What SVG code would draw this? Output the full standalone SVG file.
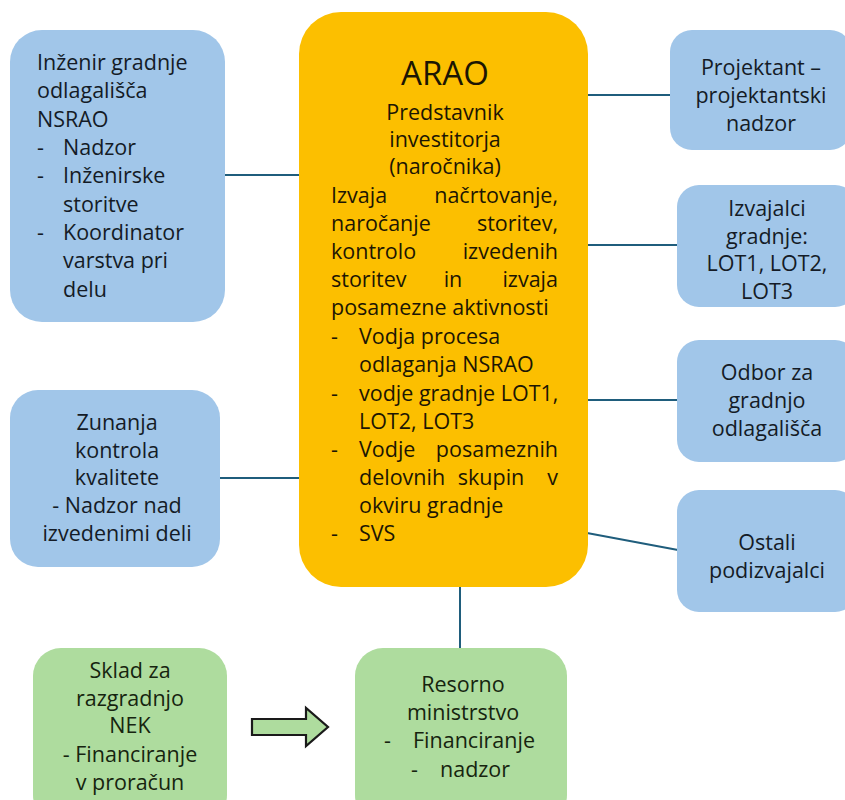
<svg xmlns="http://www.w3.org/2000/svg" width="845" height="800" viewBox="0 0 845 800">
<style>
text{font-family:"Open Sans","Liberation Sans",sans-serif;font-size:21.5px;fill:#141b26}
.c{text-anchor:middle}
.e{text-anchor:end}
.blue{fill:#a1c6e9}
.org{fill:#fcbf00}
.grn{fill:#aedc9e}
.ar text{fill:#1c1603}
.gr text{fill:#16240f}
.conn line{stroke:#1f5d7c;stroke-width:2}
</style>
<rect width="845" height="800" fill="#ffffff"/>
<g class="conn" id="connectors">
<line x1="225" y1="175" x2="300" y2="175"/>
<line x1="220" y1="478" x2="300" y2="478"/>
<line x1="587" y1="95" x2="671" y2="95"/>
<line x1="587" y1="245" x2="678" y2="245"/>
<line x1="587" y1="400" x2="678" y2="400"/>
<line x1="587" y1="533" x2="678" y2="550"/>
<line x1="460" y1="586" x2="460" y2="649"/>
<path d="M252,719 H306 V708 L328,727 L306,746 V735 H252 Z" fill="#aedc9e" stroke="#1a1a1a" stroke-width="2.2" stroke-linejoin="miter"/>
</g>
<g id="inzenir">
<rect class="blue" x="10" y="30" width="215" height="292" rx="32"/>
<text x="37" y="70">Inženir gradnje</text>
<text x="37" y="98">odlagališča</text>
<text x="37" y="126.5">NSRAO</text>
<text x="37" y="155">-</text><text x="63" y="155">Nadzor</text>
<text x="37" y="183">-</text><text x="63" y="183">Inženirske</text>
<text x="63" y="211.5">storitve</text>
<text x="37" y="240">-</text><text x="63" y="240">Koordinator</text>
<text x="63" y="268">varstva pri</text>
<text x="63" y="296.5">delu</text>
</g>
<g id="arao" class="ar">
<rect class="org" x="299" y="12" width="289" height="575" rx="42"/>
<text class="c" x="445" y="85" style="font-size:33px">ARAO</text>
<text class="c" x="445" y="120">Predstavnik</text>
<text class="c" x="445" y="147">investitorja</text>
<text class="c" x="445" y="174">(naročnika)</text>
<text x="331" y="203">Izvaja</text><text class="e" x="558" y="203">načrtovanje,</text>
<text x="331" y="231">naročanje</text><text class="e" x="558" y="231">storitev,</text>
<text x="331" y="259">kontrolo</text><text class="e" x="558" y="259">izvedenih</text>
<text x="331" y="287">storitev</text><text class="c" x="453" y="287">in</text><text class="e" x="558" y="287">izvaja</text>
<text x="331" y="315">posamezne aktivnosti</text>
<text x="331" y="344">-</text><text x="359" y="344">Vodja procesa</text>
<text x="359" y="372">odlaganja NSRAO</text>
<text x="331" y="401">-</text><text x="359" y="401">vodje gradnje LOT1,</text>
<text x="359" y="429">LOT2, LOT3</text>
<text x="331" y="457">-</text><text x="359" y="457">Vodje</text><text class="e" x="558" y="457">posameznih</text>
<text x="359" y="485">delovnih</text><text class="c" x="491" y="485">skupin</text><text class="e" x="558" y="485">v</text>
<text x="359" y="513">okviru gradnje</text>
<text x="331" y="541">-</text><text x="359" y="541">SVS</text>
</g>
<g id="projektant">
<rect class="blue" x="670" y="30" width="182" height="120" rx="22"/>
<text class="c" x="761" y="75">Projektant –</text>
<text class="c" x="761" y="103">projektantski</text>
<text class="c" x="761" y="131">nadzor</text>
</g>
<g id="izvajalci">
<rect class="blue" x="677" y="185" width="180" height="122" rx="22"/>
<text class="c" x="767" y="216">Izvajalci</text>
<text class="c" x="767" y="243.5">gradnje:</text>
<text class="c" x="767" y="271">LOT1, LOT2,</text>
<text class="c" x="767" y="298.5">LOT3</text>
</g>
<g id="odbor">
<rect class="blue" x="677" y="340" width="180" height="122" rx="22"/>
<text class="c" x="767" y="380">Odbor za</text>
<text class="c" x="767" y="408">gradnjo</text>
<text class="c" x="767" y="436">odlagališča</text>
</g>
<g id="ostali">
<rect class="blue" x="677" y="490" width="180" height="122" rx="22"/>
<text class="c" x="767" y="550">Ostali</text>
<text class="c" x="767" y="578">podizvajalci</text>
</g>
<g id="zunanja">
<rect class="blue" x="10" y="390" width="210" height="177" rx="28"/>
<text class="c" x="117" y="430">Zunanja</text>
<text class="c" x="117" y="457.5">kontrola</text>
<text class="c" x="117" y="485">kvalitete</text>
<text class="c" x="117" y="513">- Nadzor nad</text>
<text class="c" x="117" y="541">izvedenimi deli</text>
</g>
<g id="sklad" class="gr">
<rect class="grn" x="33" y="648" width="194" height="175" rx="28"/>
<text class="c" x="130" y="678">Sklad za</text>
<text class="c" x="130" y="705.5">razgradnjo</text>
<text class="c" x="130" y="733">NEK</text>
<text class="c" x="130" y="762">- Financiranje</text>
<text class="c" x="130" y="790">v proračun</text>
</g>
<g id="resorno" class="gr">
<rect class="grn" x="355" y="648" width="212" height="175" rx="28"/>
<text class="c" x="463" y="692">Resorno</text>
<text class="c" x="463" y="719.5">ministrstvo</text>
<text x="384" y="748">-</text><text x="413" y="748">Financiranje</text>
<text x="411" y="777">-</text><text x="440" y="777">nadzor</text>
</g>
</svg>
